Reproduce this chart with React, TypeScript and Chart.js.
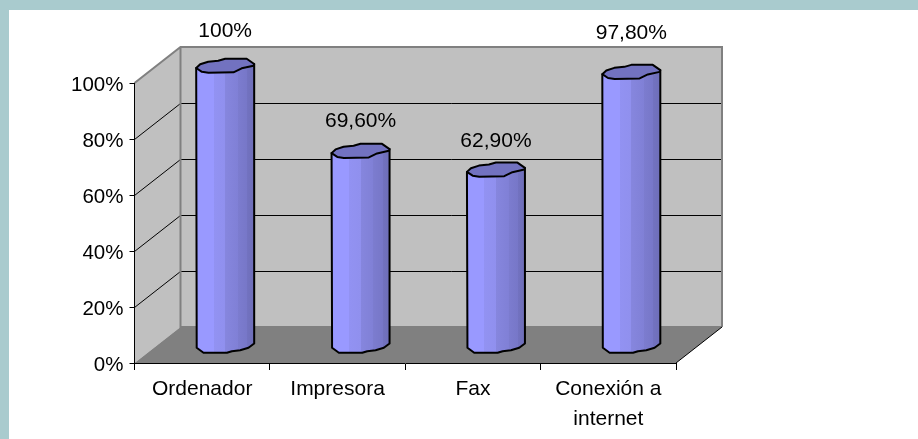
import React, { useEffect, useRef } from "react";
import { Chart, registerables } from "chart.js";

Chart.register(...registerables);

const categories: (string | string[])[] = ["Ordenador", "Impresora", "Fax", ["Conexión a", "internet"]];
const values = [100, 69.6, 62.9, 97.8];
const valueLabels = ["100%", "69,60%", "62,90%", "97,80%"];
const yTicks = [0, 20, 40, 60, 80, 100];

const FONT = "'Liberation Sans', Arial, sans-serif";
const DX = 46;
const DY = 36;
const labelLift = [34, 29, 28, 38];

// Hand-drawn look of the cylinder outline, in offsets from the centre of each cap.
const capShape: [number, number][] = [
  [-29, 3], [-25, -0.7], [-17, -3.3], [-7, -4.3], [0, -6.3], [21.5, -6.3], [29, -1], [28.3, 0.7],
  [16.5, 3.3], [8.3, 7.3], [-16.7, 7.8], [-23.3, 6.8],
];
const baseShape: [number, number][] = [
  [-28.5, 3.3], [-21.7, 8.3], [1.7, 8.3], [6.7, 6.7], [15, 5.7], [23.3, 3.3], [29, -1],
];

const depthPlugin = {
  id: "depthWalls",
  beforeDraw(chart: any) {
    const { ctx, chartArea: a, scales } = chart;
    const y = scales.y;
    ctx.save();
    // left wall
    ctx.fillStyle = "#c0c0c0";
    ctx.beginPath();
    ctx.moveTo(a.left, a.bottom);
    ctx.lineTo(a.left, a.top);
    ctx.lineTo(a.left + DX, a.top - DY);
    ctx.lineTo(a.left + DX, a.bottom - DY);
    ctx.closePath();
    ctx.fill();
    // back wall
    ctx.fillRect(a.left + DX, a.top - DY, a.right - a.left, a.bottom - a.top);
    // floor
    ctx.fillStyle = "#808080";
    ctx.beginPath();
    ctx.moveTo(a.left, a.bottom);
    ctx.lineTo(a.left + DX, a.bottom - DY);
    ctx.lineTo(a.right + DX, a.bottom - DY);
    ctx.lineTo(a.right, a.bottom);
    ctx.closePath();
    ctx.fill();
    // grid lines running along the left wall and back wall
    ctx.strokeStyle = "#000";
    ctx.lineWidth = 1;
    yTicks.slice(1, -1).forEach((t) => {
      const py = Math.round(y.getPixelForValue(t)) + 0.5;
      ctx.beginPath();
      ctx.moveTo(a.left, py);
      ctx.lineTo(a.left + DX, py - DY);
      ctx.lineTo(a.right + DX, py - DY);
      ctx.stroke();
    });
    // wall frame
    ctx.strokeStyle = "#808080";
    ctx.lineWidth = 2;
    ctx.beginPath();
    ctx.moveTo(a.left, a.top);
    ctx.lineTo(a.left + DX, a.top - DY);
    ctx.lineTo(a.right + DX, a.top - DY);
    ctx.lineTo(a.right + DX, a.bottom - DY);
    ctx.moveTo(a.left + DX, a.top - DY);
    ctx.lineTo(a.left + DX, a.bottom - DY);
    ctx.lineTo(a.right + DX, a.bottom - DY);
    ctx.stroke();
    // front-right floor edge
    ctx.strokeStyle = "#000";
    ctx.lineWidth = 1;
    ctx.beginPath();
    ctx.moveTo(a.right, a.bottom);
    ctx.lineTo(a.right + DX, a.bottom - DY);
    ctx.stroke();
    ctx.restore();
  },
};

const cylinderPlugin = {
  id: "cylinders",
  afterDatasetsDraw(chart: any) {
    const { ctx } = chart;
    const meta = chart.getDatasetMeta(0);
    ctx.save();
    meta.data.forEach((bar: any, i: number) => {
      const { x, y, base } = bar.getProps(["x", "y", "base"], true);
      const cx = x + DX / 2;
      const top = y - DY / 2;
      const bot = base - DY / 2;
      const grad = ctx.createLinearGradient(cx - 29, 0, cx + 29, 0);
      const stops: [number, string][] = [
        [0, "#9999ff"], [0.3, "#9999ff"], [0.3, "#9292f2"], [0.5, "#9090ee"], [0.5, "#8686de"],
        [0.72, "#8080d6"], [0.72, "#7c7ccf"], [0.88, "#7777c8"], [0.88, "#7272c0"], [1, "#6e6eb8"],
      ];
      stops.forEach(([o, c]) => grad.addColorStop(o, c));

      ctx.lineJoin = "round";
      ctx.lineWidth = 2;
      ctx.strokeStyle = "#000";
      ctx.beginPath();
      ctx.moveTo(cx + capShape[0][0], top + capShape[0][1]);
      baseShape.forEach(([dx, dy]) => ctx.lineTo(cx + dx, bot + dy));
      ctx.lineTo(cx + 29, top - 1);
      ctx.closePath();
      ctx.fillStyle = grad;
      ctx.fill();
      ctx.stroke();

      ctx.beginPath();
      capShape.forEach(([dx, dy], k) => {
        if (k === 0) ctx.moveTo(cx + dx, top + dy);
        else ctx.lineTo(cx + dx, top + dy);
      });
      ctx.closePath();
      ctx.fillStyle = "#7272c0";
      ctx.fill();
      ctx.stroke();

      ctx.fillStyle = "#000";
      ctx.font = `21px ${FONT}`;
      ctx.textAlign = "center";
      ctx.textBaseline = "middle";
      ctx.fillText(valueLabels[i], cx, top - labelLift[i]);
    });
    ctx.restore();
  },
};

export default function App() {
  const ref = useRef<HTMLCanvasElement>(null);
  useEffect(() => {
    const chart = new Chart(ref.current as HTMLCanvasElement, {
      type: "bar",
      data: {
        labels: categories as any,
        datasets: [{ data: values, backgroundColor: "rgba(0,0,0,0)", borderWidth: 0, barThickness: 58 }],
      },
      options: {
        animation: false,
        responsive: false,
        devicePixelRatio: 1,
        layout: { padding: { top: 83, right: 242, left: 0, bottom: 0 } },
        plugins: { legend: { display: false }, tooltip: { enabled: false }, title: { display: false } },
        scales: {
          x: {
            afterFit: (s: any) => { s.height = 76; },
            grid: { drawOnChartArea: false, color: "#000", tickLength: 7, tickColor: "#000" },
            border: { color: "#000", width: 1 },
            ticks: {
              color: "#000", padding: 4, maxRotation: 0, autoSkip: false,
              font: { family: FONT, size: 21, lineHeight: 1.45 },
            },
          },
          y: {
            min: 0,
            max: 100,
            afterFit: (s: any) => { s.width = 134.5; },
            afterBuildTicks: (s: any) => { s.ticks = yTicks.map((value) => ({ value })); },
            grid: { drawOnChartArea: false, color: "#000", tickLength: 5, tickColor: "#000" },
            border: { color: "#000", width: 1 },
            ticks: {
              color: "#000", padding: 6, labelOffset: 2,
              font: { family: FONT, size: 20.5 },
              callback: (v: any) => `${v}%`,
            },
          },
        },
      },
      plugins: [depthPlugin, cylinderPlugin],
    } as any);
    return () => chart.destroy();
  }, []);

  return (
    <div style={{ position: "fixed", left: 0, top: 0, width: 918, height: 439, background: "#a9cbce", overflow: "hidden" }}>
      <div style={{ position: "absolute", left: 9, top: 10, width: 909, height: 429, background: "#fff" }} />
      <canvas ref={ref} width={918} height={439} style={{ position: "absolute", left: 0, top: 0, display: "block" }} />
    </div>
  );
}
